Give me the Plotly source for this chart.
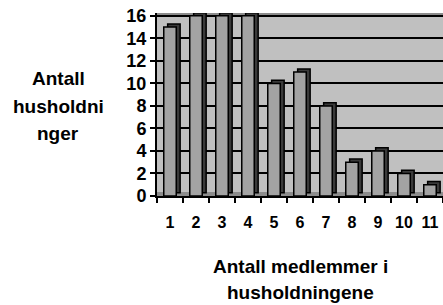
import plotly.graph_objects as go

categories = ["1", "2", "3", "4", "5", "6", "7", "8", "9", "10", "11"]
households = [15, 16, 16, 16, 10, 11, 8, 3, 4, 2, 1]
y_ticks = [0, 2, 4, 6, 8, 10, 12, 14, 16]
y_title_lines = ["Antall", "husholdni", "nger"]
x_title_lines = ["Antall medlemmer i", "husholdningene"]

FONT = "Liberation Sans, Arial, sans-serif"
BAR_W = 0.48
DEPTH_X = 0.15
DEPTH_Y = 0.28

L, R, T, B = 157, 0, 13, 109
PW, PH = 443 - L - R, 305 - T - B

fig = go.Figure()

# depth (side / top) of the pseudo-3D bars
fig.add_trace(go.Bar(
    x=categories, y=households, base=DEPTH_Y,
    width=BAR_W, offset=-BAR_W / 2 + DEPTH_X,
    marker=dict(color="#3a3a3a", line=dict(color="black", width=1.5)),
    hoverinfo="skip", showlegend=False,
))
# front face
fig.add_trace(go.Bar(
    x=categories, y=households,
    width=BAR_W, offset=-BAR_W / 2,
    marker=dict(color="#a3a3a3", line=dict(color="black", width=1.5)),
    showlegend=False,
))

fig.update_layout(
    width=443, height=305,
    margin=dict(l=L, r=R, t=T, b=B, autoexpand=False),
    paper_bgcolor="white",
    plot_bgcolor="#c0c0c0",
    barmode="overlay",
    font=dict(family=FONT, color="black"),
    shapes=[
        dict(type="rect", xref="x domain", yref="y domain",
             x0=0, x1=1, y0=0, y1=0.022, fillcolor="#8c8c8c",
             line=dict(width=0), layer="below"),
        dict(type="rect", xref="x domain", yref="y domain",
             x0=0, x1=1, y0=0.988, y1=1, fillcolor="#8c8c8c",
             line=dict(width=0), layer="below"),
    ],
)

fig.update_xaxes(
    type="category",
    automargin=False,
    showgrid=False,
    showline=True, linecolor="black", linewidth=2,
    ticks="outside", tickson="boundaries", ticklen=5, tickwidth=2, tickcolor="black",
    tickangle=0, ticklabelstandoff=11,
    tickfont=dict(family=FONT, size=16, weight="bold", color="black"),
    range=[-0.5, 10.5],
)
fig.update_yaxes(
    automargin=False,
    range=[0, 16.25],
    tickvals=y_ticks,
    showgrid=True, gridcolor="black", gridwidth=2,
    showline=True, linecolor="black", linewidth=2,
    ticks="outside", ticklen=5, tickwidth=2, tickcolor="black",
    tickfont=dict(family=FONT, size=18, weight="bold", color="black"),
    zeroline=False,
)

for i, (line, yc) in enumerate(zip(y_title_lines, [78.5, 106, 133.5])):
    fig.add_annotation(
        text=line, xref="paper", yref="paper",
        x=(58 - L) / PW, y=(T + PH - yc) / PH,
        xanchor="center", yanchor="middle", showarrow=False,
        font=dict(family=FONT, size=19, weight="bold", color="black"),
    )
for i, (line, yc) in enumerate(zip(x_title_lines, [266.5, 292.5])):
    fig.add_annotation(
        text=line, xref="paper", yref="paper",
        x=0.5, y=(T + PH - yc) / PH,
        xanchor="center", yanchor="middle", showarrow=False,
        font=dict(family=FONT, size=19, weight="bold", color="black"),
    )

fig.write_html(
    "out.html",
    config={"displayModeBar": False},
    post_script="document.body.style.margin='0';document.body.style.overflow='hidden';",
)
